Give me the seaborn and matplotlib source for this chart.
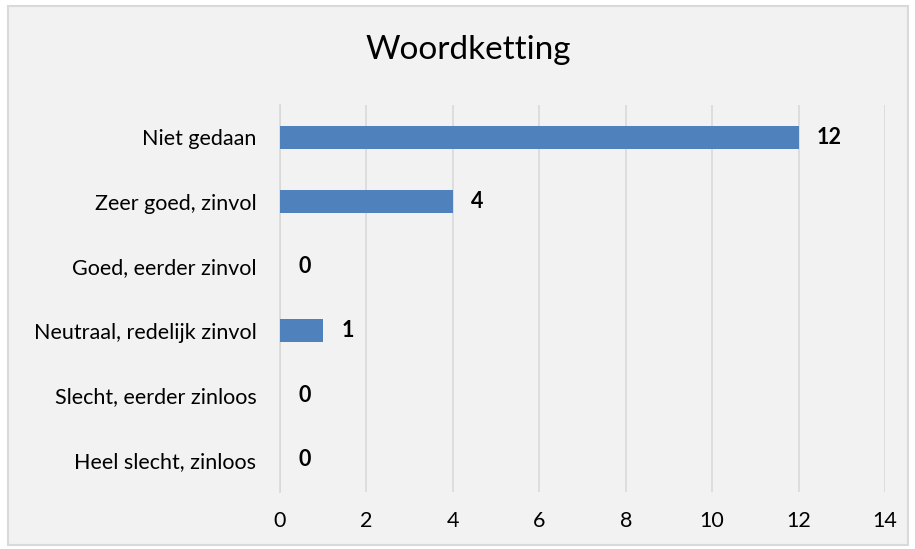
import matplotlib
matplotlib.use("Agg")
import matplotlib.pyplot as plt
import matplotlib.patches as mpatches
import seaborn as sns
import pandas as pd

categories = [
    "Niet gedaan",
    "Zeer goed, zinvol",
    "Goed, eerder zinvol",
    "Neutraal, redelijk zinvol",
    "Slecht, eerder zinloos",
    "Heel slecht, zinloos",
]
counts = [12, 4, 0, 1, 0, 0]
x_ticks = [0, 2, 4, 6, 8, 10, 12, 14]
title = "Woordketting"

sns.set_theme(style="white")
plt.rcParams["font.family"] = ["Lato", "DejaVu Sans"]

bg = "#f2f2f2"
bar_color = "#4f81bd"
grid_color = "#d9d9d9"

df = pd.DataFrame({"categorie": categories, "aantal": counts})

fig = plt.figure(figsize=(9.15, 5.49), dpi=100, facecolor="white")
# chart frame with light fill and thin grey border
fig.patches.append(mpatches.Rectangle(
    (8 / 915, 1 - 545 / 549), 900 / 915, 539 / 549,
    transform=fig.transFigure, facecolor=bg, edgecolor="#d9d9d9",
    linewidth=1.5, zorder=-5))

ax = fig.add_axes([280 / 915, 1 - 492 / 549, 605 / 915, 387 / 549])
ax.set_zorder(2)
ax.set_facecolor(bg)

sns.barplot(data=df, x="aantal", y="categorie", orient="h",
            color=bar_color, width=0.36, saturation=1, linewidth=0,
            ax=ax, zorder=3)

ax.set_xlim(0, 14)
ax.set_xticks(x_ticks)
ax.set_xticklabels([str(t) for t in x_ticks])
ax.set_ylim(5.5, -0.5)
ax.grid(axis="x", color=grid_color, linewidth=1.2, zorder=0)
ax.grid(axis="y", visible=False)
for side in ["top", "right", "bottom"]:
    ax.spines[side].set_visible(False)
ax.spines["left"].set_color(grid_color)
ax.spines["left"].set_linewidth(1.2)
ax.tick_params(axis="both", length=0, labelsize=15.5, colors="#000000")
ax.tick_params(axis="y", pad=17)
ax.tick_params(axis="x", pad=14)
ax.set_xlabel("")
ax.set_ylabel("")

for i, v in enumerate(counts):
    ax.annotate(str(v), xy=(v, i), xytext=(13, 0), textcoords="offset points",
                ha="left", va="center", fontsize=15.5, fontweight="bold",
                color="black")

fig.text(468 / 915, 1 - 50 / 549, title, ha="center", va="center",
         fontsize=24, color="black")

fig.savefig("out.png", dpi=100, facecolor="white")
